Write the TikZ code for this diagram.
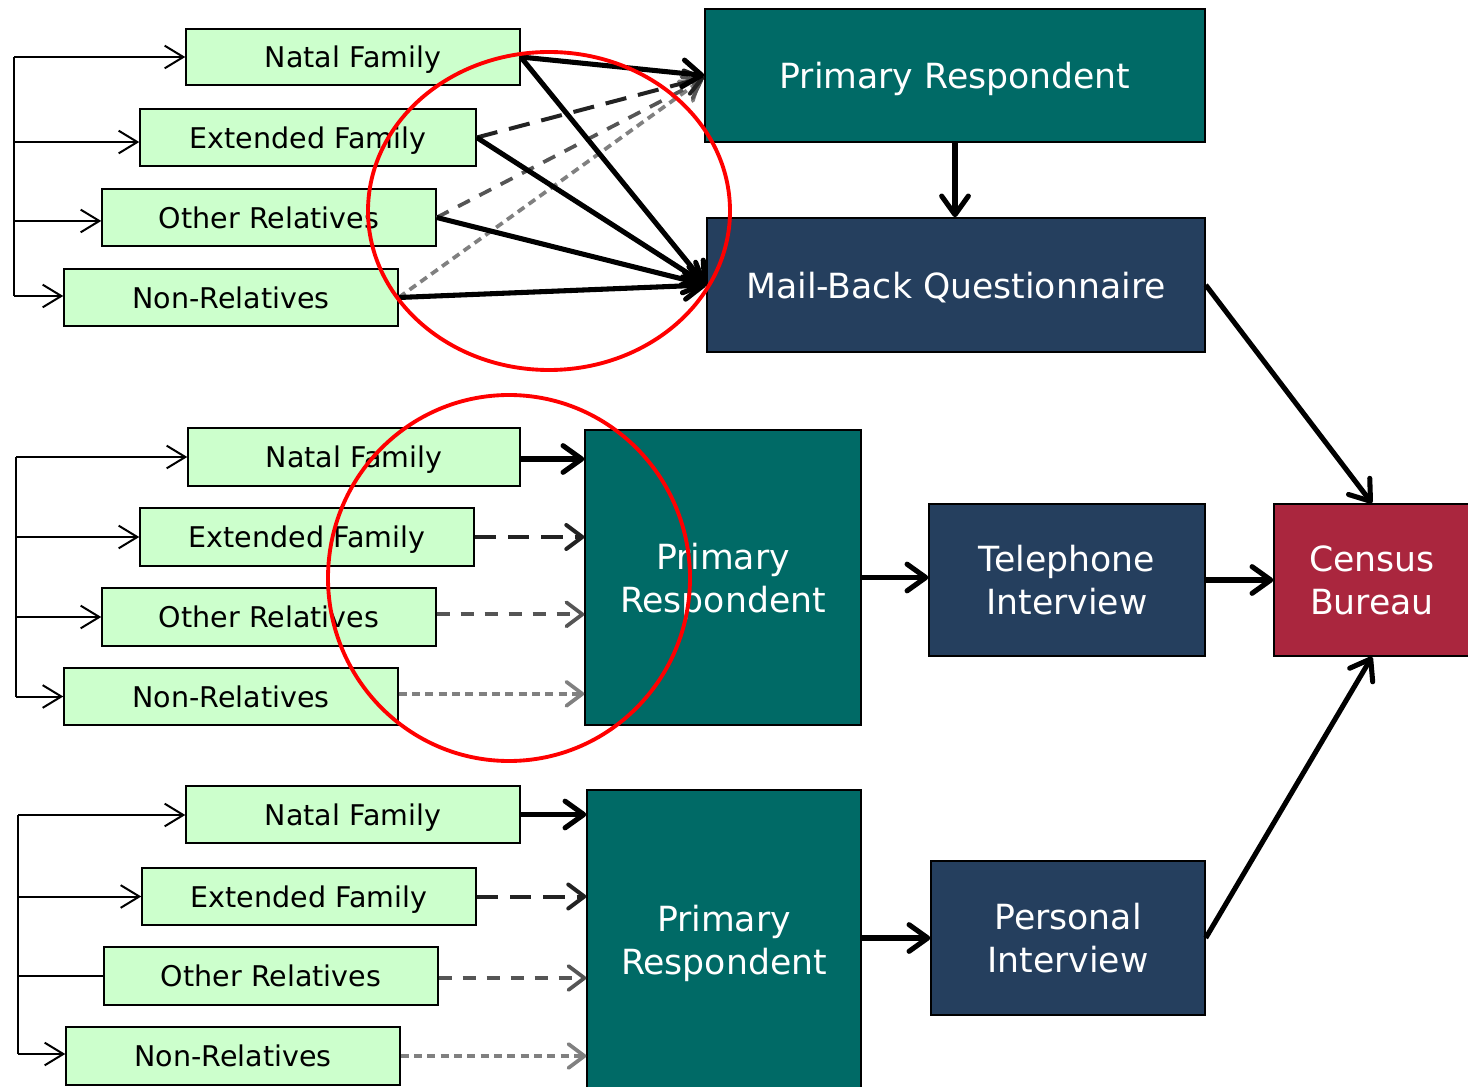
\documentclass[tikz,border=0pt]{standalone}
\usepackage{fontspec}
\setmainfont{DejaVu Sans}
\usetikzlibrary{arrows.meta}
\definecolor{grn}{HTML}{CCFFCC}
\definecolor{tealbx}{HTML}{006A66}
\definecolor{navybx}{HTML}{253F5E}
\definecolor{crimbx}{HTML}{AA263E}
\definecolor{dkA}{HTML}{222222}
\definecolor{dkB}{HTML}{555555}
\definecolor{dkC}{HTML}{808080}
\newcommand\bx[7]{\node[#6, minimum width={(#4-#2)*0.75pt}, minimum height={(#5-#3)*0.75pt}] (#1) at ({(#2+#4)/2},{(#3+#5)/2}) {#7};}
\begin{document}
\begin{tikzpicture}[x=0.75pt,y=-0.75pt,
  rel/.style={draw=black, line width=1.1pt, fill=grn, inner sep=0pt, text depth=0pt, font=\fontsize{21.4}{26}\selectfont, text=black},
  bigbx/.style={draw=black, line width=1.1pt, inner sep=0pt, text depth=0pt, font=\fontsize{26}{32.5}\selectfont, text=white, align=center},
  prbx/.style={bigbx, fill=tealbx},
  nvbx/.style={bigbx, fill=navybx},
  cbbx/.style={bigbx, fill=crimbx},
  thinarr/.style={line width=1.5pt, -{Straight Barb[length=14pt,width=17pt]}},
  thickarr/.style={line width=3.8pt, -{Straight Barb[length=14pt,width=20pt,round]}},
  dshA/.style={dkA, line width=3pt, dash pattern=on 16pt off 9pt, -{Straight Barb[length=12pt,width=18pt,round]}},
  dshB/.style={dkB, line width=2.8pt, dash pattern=on 10pt off 8pt, -{Straight Barb[length=12pt,width=18pt,round]}},
  dshC/.style={dkC, line width=2.8pt, dash pattern=on 6pt off 4pt, -{Straight Barb[length=12pt,width=18pt,round]}},
  ring/.style={red, line width=2.9pt}]
\useasboundingbox (0,0) rectangle (1468,1087);

% ---------- top group ----------
\bx{tn1}{186}{29}{520}{85}{rel}{Natal Family}
\bx{tn2}{140}{109}{476}{166}{rel}{Extended Family}
\bx{tn3}{102}{189}{436}{246}{rel}{Other Relatives}
\bx{tn4}{64}{269}{398}{326}{rel}{Non-Relatives}
\bx{tpr}{705}{9}{1205}{142}{prbx}{Primary Respondent}
\bx{mbq}{707}{218}{1205}{352}{nvbx}{Mail-Back Questionnaire}

\coordinate (brT) at (14,57);
\coordinate (brTe) at (14,296);
\coordinate (tn2w) at ([yshift=-3.4pt]tn2.west);
\coordinate (tn3w) at ([yshift=-2.6pt]tn3.west);
\draw[line width=1.5pt] (brT) -- (brTe);
\draw[thinarr] (brT) -- (tn1.west);
\draw[thinarr] (brT |- tn2w) -- (tn2w);
\draw[thinarr] (brT |- tn3w) -- (tn3w);
\draw[thinarr] (brTe) -- (brTe -| tn4.west);

\coordinate (prC) at ([xshift=-3pt,yshift=-4pt]tpr.west);
\coordinate (prB) at ([xshift=-1pt,yshift=-3pt]tpr.west);
\coordinate (prA) at ([yshift=-1.5pt]tpr.west);
\draw[dshC] (tn4.east) -- (prC);
\draw[dshB] (tn3.east) -- (prB);
\draw[dshA] (tn2.east) -- (prA);
\draw[thickarr] (tn1.east) -- (tpr.west);
\draw[thickarr] (tn1.east) -- (mbq.west);
\draw[thickarr] (tn2.east) -- (mbq.west);
\draw[thickarr] (tn3.east) -- (mbq.west);
\draw[thickarr] (tn4.east) -- (mbq.west);
\draw[thickarr] (tpr.south) -- (tpr.south |- mbq.north);

% ---------- middle group ----------
\bx{mn1}{188}{428}{520}{486}{rel}{Natal Family}
\bx{mn2}{140}{508}{474}{566}{rel}{Extended Family}
\bx{mn3}{102}{588}{436}{646}{rel}{Other Relatives}
\bx{mn4}{64}{668}{398}{725}{rel}{Non-Relatives}
\bx{mpr}{585}{430}{861}{725}{prbx}{Primary\\Respondent}
\bx{tel}{929}{504}{1205}{656}{nvbx}{Telephone\\Interview}
\bx{cb}{1274}{504}{1470}{656}{cbbx}{Census\\Bureau}

\coordinate (brM) at (16,457);
\coordinate (brMe) at (16,696.5);
\draw[line width=1.5pt] (brM) -- (brMe);
\draw[thinarr] (brM) -- (mn1.west);
\draw[thinarr] (brM |- mn2.west) -- (mn2.west);
\draw[thinarr] (brM |- mn3.west) -- (mn3.west);
\draw[thinarr] (brMe) -- (mn4.west);

\coordinate (mn1e) at ([yshift=-1.5pt]mn1.east);
\coordinate (mn3e) at ([yshift=2pt]mn3.east);
\coordinate (mn4e) at ([yshift=2pt]mn4.east);
\draw[thickarr] (mn1e) -- (mn1e -| mpr.west);
\draw[dshA] (mn2.east) -- (mn2.east -| mpr.west);
\draw[dshB] (mn3e) -- (mn3e -| mpr.west);
\draw[dshC] (mn4e) -- (mn4e -| mpr.west);
\draw[thickarr] (mpr.east) -- (mpr.east -| tel.west);
\draw[thickarr] (tel.east) -- (cb.west);
\draw[thickarr] (mbq.east) -- (cb.north);

% ---------- bottom group ----------
\bx{bn1}{186}{786}{520}{843}{rel}{Natal Family}
\bx{bn2}{142}{868}{476}{925}{rel}{Extended Family}
\bx{bn3}{104}{947}{438}{1005}{rel}{Other Relatives}
\bx{bn4}{66}{1027}{400}{1085}{rel}{Non-Relatives}
\bx{bpr}{587}{790}{861}{1089}{prbx}{Primary\\Respondent}
\bx{pers}{931}{861}{1205}{1015}{nvbx}{Personal\\Interview}

\coordinate (brB) at (18,815);
\coordinate (brBe) at (18,1054);
\draw[line width=1.5pt] (brB) -- (brBe);
\draw[thinarr] (brB) -- (brB -| bn1.west);
\draw[thinarr] (brB |- bn2.west) -- (bn2.west);
\draw[line width=1.5pt] (brB |- bn3.west) -- (bn3.west);
\draw[thinarr] (brBe) -- (brBe -| bn4.west);

\coordinate (bn3e) at ([yshift=-1.5pt]bn3.east);
\draw[thickarr] (bn1.east) -- (bn1.east -| bpr.west);
\draw[dshA] (bn2.east) -- (bn2.east -| bpr.west);
\draw[dshB] (bn3e) -- (bn3e -| bpr.west);
\draw[dshC] (bn4.east) -- (bn4.east -| bpr.west);
\draw[thickarr] (pers.west -| bpr.east) -- (pers.west);
\draw[thickarr] (pers.east) -- (cb.south);

% ---------- red rings ----------
\draw[ring] (549,211) ellipse [x radius=135.75pt, y radius=119.25pt];
\draw[ring] (509,578) ellipse [x radius=135.75pt, y radius=137.25pt];
\end{tikzpicture}
\end{document}
